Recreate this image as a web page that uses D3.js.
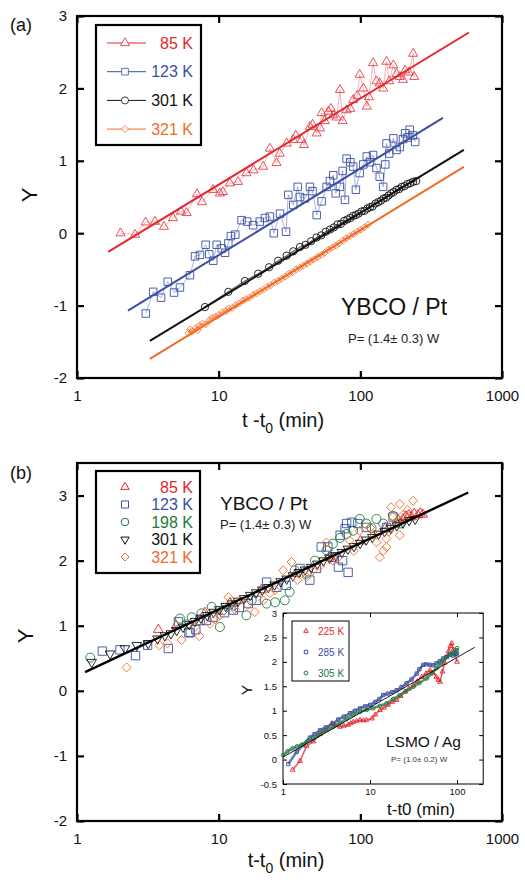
<!DOCTYPE html>
<html>
<head>
<meta charset="utf-8">
<script src="https://cdn.jsdelivr.net/npm/d3@7"></script>
<style>
  body { margin: 0; background: #fff; }
  svg { font-family: "Liberation Sans", Arial, sans-serif; }
</style>
</head>
<body>
<script>
// ---- data: panel (a), [t - t0 (min), Y]
var a85 = [[2.03,0.0],[2.57,-0.02],[3.05,0.15],[3.55,0.16],[4.11,0.09],[4.76,0.21],[5.42,0.30],[5.94,0.28],[7.03,0.54],[7.62,0.43],[9.12,0.60],[10.2,0.55],[10.7,0.57],[12.0,0.69],[13.7,0.71],[15.7,0.83],[17.6,0.87],[20.6,0.92],[23.0,1.17],[25.6,0.97],[27,1.1],[30.2,1.24],[33.6,1.29],[35,1.35],[38.5,1.29],[40,1.22],[44.1,1.47],[46,1.5],[49.2,1.38],[52,1.45],[53.3,1.66],[56,1.55],[59.4,1.68],[62,1.72],[64.5,1.63],[68,1.6],[71.8,1.98],[75,1.55],[80,1.70],[85,1.72],[89,1.84],[95,1.9],[99,2.19],[105,2.0],[111,1.75],[115,1.88],[123,2.35],[130,2.1],[137,2.07],[145,2.0],[153,2.37],[160,2.1],[171,2.32],[180,2.2],[190,2.16],[200,2.12],[207,2.25],[220,2.22],[236,2.48],[240,2.16]];
var a123 = [[3.06,-1.11],[3.45,-0.81],[3.92,-0.89],[4.37,-0.67],[4.84,-0.82],[5.33,-0.75],[6.27,-0.58],[6.81,-0.32],[7.38,-0.30],[8.09,-0.16],[8.58,-0.29],[9.16,-0.38],[9.68,-0.16],[10.5,-0.21],[11.1,-0.27],[11.7,-0.14],[12.2,-0.04],[13.1,-0.02],[14.5,0.18],[15.9,0.16],[17.5,0.11],[19.5,0.16],[21.2,0.21],[23.0,0.23],[24.5,0.0],[27.1,0.27],[29.9,0.02],[31.0,0.53],[33.6,0.39],[36.1,0.64],[37.5,0.50],[40.6,0.48],[44.1,0.64],[46,0.58],[49.2,0.25],[53.3,0.44],[57.8,0.64],[61,0.72],[64.4,0.80],[67,0.55],[71.8,0.64],[75,0.86],[77.9,0.46],[80,1.03],[85,0.98],[89,0.92],[93,0.60],[99,0.83],[105,0.95],[111,1.06],[117,0.98],[123,1.08],[130,0.90],[137,0.78],[145,0.64],[150,0.95],[153,1.24],[160,1.10],[171,1.31],[180,1.15],[190,1.19],[200,1.30],[207,1.38],[215,1.32],[223,1.43],[235,1.35],[244,1.26]];
var a301 = [[8.0,-1.02],[11.7,-0.81],[15.3,-0.66],[19.0,-0.56],[22.7,-0.47],[26.3,-0.38],[30.2,-0.31],[33.6,-0.25],[37.5,-0.19],[41,-0.16],[45,-0.11],[49,-0.06],[53,-0.03],[57,0.02],[61,0.05],[65,0.08],[69,0.12],[73,0.13],[77,0.17],[81,0.19],[85,0.21],[89,0.24],[93,0.25],[97,0.27],[102,0.30],[107,0.31],[112,0.34],[117,0.36],[122,0.37],[128,0.41],[134,0.43],[140,0.45],[146,0.48],[152,0.49],[158,0.52],[165,0.55],[172,0.57],[180,0.60],[188,0.61],[196,0.64],[205,0.65],[215,0.68],[225,0.69],[236,0.71],[248,0.72]];
var a321 = [[6.1,-1.38],[6.3,-1.33],[6.5,-1.36],[6.9,-1.31],[7.1,-1.34],[7.3,-1.28],[7.7,-1.25],[8.1,-1.26],[8.6,-1.20],[9.0,-1.17],[9.5,-1.15],[10.0,-1.13],[10.6,-1.09],[11.2,-1.08],[11.8,-1.04],[12.5,-1.03],[13.2,-0.99],[14.0,-0.97],[14.8,-0.93],[15.6,-0.91],[16.5,-0.89],[17.5,-0.85],[18.5,-0.83],[19.6,-0.80],[20.7,-0.78],[22,-0.74],[23.3,-0.72],[24.7,-0.68],[26.2,-0.66],[27.8,-0.63],[29.5,-0.60],[31.3,-0.56],[33.2,-0.54],[35.2,-0.50],[37.3,-0.48],[39.5,-0.45],[41.9,-0.42],[44.4,-0.39],[47.1,-0.36],[49.9,-0.33],[52.9,-0.30],[56.1,-0.27],[59.5,-0.23],[63.1,-0.20],[66.9,-0.17],[70.9,-0.14],[75.2,-0.10],[79.7,-0.07],[84.5,-0.04],[89.6,-0.01],[95,0.02],[100.7,0.05],[106.8,0.08],[113,0.12]];
// linear fits Y = b + m*log10(t), drawn between t0..t1
var fitNames = ["85 K","123 K","301 K","321 K"];
var fitB = [-0.52,-1.50,-2.10,-2.35];
var fitM = [1.19,1.197,1.19,1.196];
var fitT0 = [1.66,2.29,3.27,3.27];
var fitT1 = [584,383,538,538];

// ---- data: panel (b)
var b85 = [[3.75,0.94],[5,1.0],[8,1.2],[12,1.35],[20,1.55],[35,1.8],[60,2.05],[100,2.3],[150,2.5],[185,2.62],[200,2.64],[210,2.68],[220,2.70],[230,2.67],[240,2.72],[255,2.70],[265,2.73],[276,2.71]];
var b123 = [[1.51,0.61],[2.01,0.63],[2.59,0.54],[3.15,0.70],[4.41,0.65],[5.2,1.06],[6.17,0.89],[6.3,0.90],[6.9,0.94],[7.4,1.08],[8.2,1.08],[9.1,1.13],[11,1.2],[12.7,1.24],[14,1.28],[16.2,1.34],[18.5,1.39],[21.8,1.67],[25.7,1.59],[30,1.62],[37.5,1.88],[44,1.70],[49,1.88],[53,2.21],[59,2.21],[64,2.05],[70,1.90],[72,2.39],[75,2.0],[78,2.49],[80,2.57],[82,1.82],[87,2.59],[96,2.57],[110,2.51],[153,2.51],[170,2.67]];
var b198 = [[1.24,0.51],[5.33,1.11],[5.95,1.02],[6.45,1.13],[7.57,1.19],[8.93,1.29],[10.2,0.98],[10.7,1.24],[12.7,1.31],[15.7,1.16],[17.1,1.39],[21.8,1.34],[25,1.36],[29.3,1.39],[31.7,1.52],[34.4,1.85],[41.7,1.80],[47.8,2.0],[57.7,2.16],[64,2.26],[72,2.35],[80,2.41],[89,2.46],[99,2.64],[110,2.57],[120,2.50],[130,2.64],[145,2.57],[170,2.69],[190,2.57]];
var b301 = [[1.27,0.44],[1.71,0.57],[2.18,0.65],[2.64,0.70],[3.18,0.73],[3.7,0.80],[4.17,0.85],[4.6,0.88],[5.05,0.93],[5.6,0.98],[6.2,1.02],[6.8,1.07],[7.5,1.12],[8.3,1.16],[9.2,1.21],[10.1,1.25],[11.2,1.30],[12.4,1.34],[13.7,1.38],[15.1,1.42],[16.7,1.47],[18.4,1.51],[20.3,1.55],[22.4,1.59],[24.8,1.63],[27.4,1.68],[30.2,1.72],[33.4,1.77],[36.9,1.82],[40.7,1.86],[45,1.90],[49.7,1.95],[54.9,2.00],[60.6,2.04],[67,2.08],[74,2.13],[81.7,2.18],[90.2,2.22],[99.7,2.27],[110,2.32],[121.6,2.36],[134.3,2.41],[148.4,2.45],[163.9,2.50],[181,2.54],[200,2.58],[221,2.62],[244,2.64]];
var b321 = [[2.24,0.36],[3.81,0.70],[4.36,0.73],[5.47,0.78],[6.8,0.98],[7.3,0.84],[8.7,1.03],[9.5,1.1],[10.2,1.16],[11.7,1.44],[13,1.25],[14.1,1.39],[16,1.32],[18.0,1.21],[20.6,1.39],[23,1.50],[25,1.55],[28.5,1.85],[32.6,1.98],[36,1.70],[41.7,1.75],[46,1.85],[52,1.92],[57.7,2.28],[64,2.0],[70,2.05],[84,2.31],[90,2.15],[99,2.46],[117,2.51],[125,2.40],[130,2.28],[137,2.05],[145,2.15],[153,2.21],[153,2.34],[160,2.45],[165,2.82],[170,2.67],[180,2.60],[190,2.87],[190,2.39],[200,2.70],[215,2.78],[236,2.92]];
var bFitB = 0.23, bFitM = 1.02, bFitT = [1.14, 578];

// ---- data: inset (LSMO / Ag)
var i225 = [[1.29,-0.21],[1.57,-0.03],[1.87,0.28],[2.23,0.37],[2.66,0.52],[3.1,0.6],[3.63,0.74],[4.0,0.70],[4.5,0.67],[5.0,0.69],[5.6,0.71],[6.0,0.74],[6.4,0.77],[7.0,0.79],[7.7,0.81],[8.4,0.80],[9.1,0.81],[10.5,0.84],[11.5,0.92],[13.0,1.01],[14.5,1.06],[16.2,1.12],[18,1.18],[20.2,1.22],[22.5,1.30],[25.3,1.39],[28,1.45],[31.5,1.52],[35,1.60],[39.3,1.69],[44,1.76],[49,1.83],[53,1.78],[58,1.69],[61,1.63],[64,1.59],[68,1.80],[72,1.98],[76,2.10],[80,2.22],[84,2.32],[87,2.38],[91,2.25],[95,2.17],[100,2.0]];
var i285 = [[1.15,-0.09],[1.44,0.16],[1.7,0.30],[2.03,0.45],[2.3,0.52],[2.66,0.60],[3.1,0.66],[3.78,0.74],[4.3,0.82],[5.0,0.88],[5.9,0.95],[6.7,1.0],[7.7,1.05],[8.8,1.09],[10,1.12],[11.5,1.18],[12.8,1.24],[14.2,1.32],[16,1.35],[18,1.38],[20.2,1.42],[23,1.48],[26.3,1.56],[30,1.64],[34.4,1.76],[37,1.85],[40.9,1.94],[44,1.95],[48.9,1.94],[53,1.93],[58,1.97],[63,2.01],[69,2.07],[75,2.10],[83,2.14],[90,2.13],[97,2.16],[100,2.17]];
var i305 = [[1.0,0.09],[1.13,0.17],[1.29,0.23],[1.45,0.27],[1.63,0.30],[1.9,0.37],[2.23,0.43],[2.55,0.50],[2.9,0.57],[3.3,0.62],[3.78,0.67],[4.5,0.75],[5.4,0.84],[6.4,0.92],[7.7,0.98],[9.2,1.02],[10.9,1.05],[13,1.10],[15.5,1.15],[18.5,1.24],[22,1.32],[26,1.40],[31.5,1.49],[37,1.57],[44.8,1.66],[51,1.76],[58,1.87],[66,1.97],[76,2.10],[84,2.16],[92,2.20],[99,2.24],[100,2.28]];
var iFitB = 0.05, iFitM = 1.02, iFitT = [1, 160];

var colors = { red: "#e3262f", blue: "#3b4ea3", black: "#111", orange: "#f26b27", green: "#23783f" };

var svg = d3.select("body").append("svg").attr("width", 525).attr("height", 882);

// ---- scales
var xA = d3.scaleLog().domain([1, 1000]).range([77, 502]);
var yA = d3.scaleLinear().domain([-2, 3]).range([378, 16]);
var xB = d3.scaleLog().domain([1, 1000]).range([77, 502]);
var yB = d3.scaleLinear().domain([-2, 3.5]).range([821, 463]);
var xI = d3.scaleLog().domain([1, 200]).range([283, 483.2]);
var yI = d3.scaleLinear().domain([-0.5, 3]).range([784, 613]);

var triUp = d3.symbol().type(d3.symbolTriangle);
var sq = d3.symbol().type(d3.symbolSquare);
var circ = d3.symbol().type(d3.symbolCircle);

function drawFrame(x, y, xt, yt, tk, fs, pad, fw) {
  var g = svg.append("g").attr("class", "frame");
  var x0 = x.range()[0], x1 = x.range()[1], y0 = y.range()[0], y1 = y.range()[1];
  var fmt = function(d) { return String(d); };
  g.append("g").attr("transform", "translate(0," + y0 + ")")
    .call(d3.axisBottom(x).tickValues(xt).tickFormat(fmt).tickSize(-tk).tickPadding(pad[0]));
  g.append("g").attr("transform", "translate(0," + y1 + ")")
    .call(d3.axisTop(x).tickValues(xt).tickFormat("").tickSize(-tk));
  g.append("g").attr("transform", "translate(" + x0 + ",0)")
    .call(d3.axisLeft(y).tickValues(yt).tickFormat(fmt).tickSize(-tk).tickPadding(pad[1]));
  g.append("g").attr("transform", "translate(" + x1 + ",0)")
    .call(d3.axisRight(y).tickValues(yt).tickFormat("").tickSize(-tk));
  g.selectAll(".domain").remove();
  g.selectAll(".tick line").attr("stroke", "#000").attr("stroke-width", fw);
  g.selectAll(".tick text").attr("font-size", fs).attr("fill", "#111")
    .attr("font-family", "Liberation Sans, Arial, sans-serif");
  g.append("rect").attr("x", x0).attr("y", y1).attr("width", x1 - x0).attr("height", y0 - y1)
    .attr("fill", "none").attr("stroke", "#000").attr("stroke-width", fw);
  return g;
}

function diamondPath(s) {
  var h = s / 2;
  return "M0," + (-h) + "L" + h + ",0L0," + h + "L" + (-h) + ",0Z";
}

function drawPoints(data, x, y, kind, color, size, sw, lineColor, lineW) {
  var sorted = data.slice().sort(function(p, q) { return p[0] - q[0]; });
  if (lineColor) {
    svg.append("path").datum(sorted)
      .attr("d", d3.line().x(function(d) { return x(d[0]); }).y(function(d) { return y(d[1]); }))
      .attr("fill", "none").attr("stroke", lineColor).attr("stroke-width", lineW || 0.7)
      .attr("stroke-opacity", 0.75).attr("stroke-linejoin", "round");
  }
  var g = svg.append("g");
  g.selectAll("path").data(sorted).enter().append("path")
    .attr("transform", function(d) {
      var r = kind === "down" ? " rotate(180)" : "";
      return "translate(" + x(d[0]) + "," + y(d[1]) + ")" + r;
    })
    .attr("d", function() {
      if (kind === "tri" || kind === "down") return triUp.size(size)();
      if (kind === "sq") return sq.size(size)();
      if (kind === "circ") return circ.size(size)();
      return diamondPath(size);
    })
    .attr("fill", "none").attr("stroke", color).attr("stroke-width", sw);
}

function fitLine(x, y, b, m, t0, t1, color, w) {
  svg.append("line")
    .attr("x1", x(t0)).attr("y1", y(b + m * Math.log10(t0)))
    .attr("x2", x(t1)).attr("y2", y(b + m * Math.log10(t1)))
    .attr("stroke", color).attr("stroke-width", w);
}

function txt(x, y, s, size, color, anchor) {
  return svg.append("text").attr("x", x).attr("y", y).attr("font-size", size)
    .attr("fill", color || "#111").attr("text-anchor", anchor || "start").text(s);
}

// =============== panel (a)
drawFrame(xA, yA, [1, 10, 100, 1000], [-2, -1, 0, 1, 2, 3], 7, 15, [12, 10], 2.2);

drawPoints(a85, xA, yA, "tri", colors.red, 36, 0.8, "#ef6f74");
drawPoints(a123, xA, yA, "sq", colors.blue, 56, 0.9, "#5a6cb8");
drawPoints(a301, xA, yA, "circ", colors.black, 42, 0.9, "#333", 1.2);
drawPoints(a321, xA, yA, "dia", colors.orange, 7, 0.8, "#f58a52", 2.2);

var fitCols = [colors.red, colors.blue, colors.black, colors.orange];
fitB.forEach(function(b, i) {
  fitLine(xA, yA, b, fitM[i], fitT0[i], fitT1[i], fitCols[i], 2);
});

// legend (a)
svg.append("rect").attr("x", 96).attr("y", 25).attr("width", 105).attr("height", 120)
  .attr("fill", "#fff").attr("stroke", "#000").attr("stroke-width", 2.2);
var legKinds = ["tri", "sq", "circ", "dia"];
var legSizes = [36, 44, 40, 34];
fitNames.forEach(function(name, i) {
  var yy = 43 + i * 28.7;
  svg.append("line").attr("x1", 107).attr("x2", 146).attr("y1", yy).attr("y2", yy)
    .attr("stroke", fitCols[i]).attr("stroke-width", 1);
  var p = svg.append("path").attr("transform", "translate(125," + yy + ")")
    .attr("fill", "#fff").attr("stroke", fitCols[i]).attr("stroke-width", 0.8);
  if (legKinds[i] === "tri") p.attr("d", triUp.size(legSizes[i])());
  else if (legKinds[i] === "sq") p.attr("d", sq.size(legSizes[i])());
  else if (legKinds[i] === "circ") p.attr("d", circ.size(legSizes[i])());
  else p.attr("d", diamondPath(7));
  txt(193, yy + 5.5, name, 16, fitCols[i], "end");
});

txt(10, 31, "(a)", 18, "#111");
txt(341, 315, "YBCO / Pt", 23, "#111");
txt(348, 343, "P= (1.4\u00b1 0.3) W", 13, "#222");
svg.append("text").attr("transform", "translate(37,195) rotate(-90)")
  .attr("text-anchor", "middle").attr("font-size", 22).attr("fill", "#111").text("Y");
var tA = svg.append("text").attr("x", 283).attr("y", 427).attr("text-anchor", "middle")
  .attr("font-size", 20).attr("fill", "#111");
tA.append("tspan").text("t -t");
tA.append("tspan").attr("font-size", 14).attr("dy", 6).text("0");
tA.append("tspan").attr("dy", -6).text(" (min)");

// =============== panel (b)
drawFrame(xB, yB, [1, 10, 100, 1000], [-2, -1, 0, 1, 2, 3], 7, 15, [12, 10], 2.2);

drawPoints(b85, xB, yB, "tri", colors.red, 40, 0.9);
drawPoints(b123, xB, yB, "sq", colors.blue, 70, 0.9);
drawPoints(b198, xB, yB, "circ", colors.green, 64, 0.9);
drawPoints(b301, xB, yB, "down", colors.black, 40, 0.9);
drawPoints(b321, xB, yB, "dia", colors.orange, 9, 0.9);
fitLine(xB, yB, bFitB, bFitM, bFitT[0], bFitT[1], "#000", 2.4);

// legend (b)
svg.append("rect").attr("x", 96).attr("y", 471).attr("width", 104).attr("height", 102)
  .attr("fill", "#fff").attr("stroke", "#000").attr("stroke-width", 2.2);
var legB = [["85 K", colors.red, "tri"], ["123 K", colors.blue, "sq"], ["198 K", colors.green, "circ"],
            ["301 K", colors.black, "down"], ["321 K", colors.orange, "dia"]];
legB.forEach(function(e, i) {
  var yy = 487 + i * 17.5;
  var p = svg.append("path").attr("fill", "none").attr("stroke", e[1]).attr("stroke-width", 1)
    .attr("transform", "translate(125," + yy + ")" + (e[2] === "down" ? " rotate(180)" : ""));
  if (e[2] === "tri" || e[2] === "down") p.attr("d", triUp.size(30)());
  else if (e[2] === "sq") p.attr("d", sq.size(50)());
  else if (e[2] === "circ") p.attr("d", circ.size(45)());
  else p.attr("d", diamondPath(8));
  txt(193, yy + 5.5, e[0], 16, e[1], "end");
});

txt(10, 479, "(b)", 18, "#111");
txt(220, 510, "YBCO / Pt", 19, "#111");
txt(220, 529, "P= (1.4\u00b1 0.3) W", 13, "#222");
svg.append("text").attr("transform", "translate(33,636) rotate(-90)")
  .attr("text-anchor", "middle").attr("font-size", 22).attr("fill", "#111").text("Y");
var tB = svg.append("text").attr("x", 286).attr("y", 867).attr("text-anchor", "middle")
  .attr("font-size", 20).attr("fill", "#111");
tB.append("tspan").text("t-t");
tB.append("tspan").attr("font-size", 14).attr("dy", 6).text("0");
tB.append("tspan").attr("dy", -6).text(" (min)");

// =============== inset
svg.append("rect").attr("x", 283).attr("y", 613).attr("width", 200.2).attr("height", 171).attr("fill", "#fff");
drawFrame(xI, yI, [1, 10, 100], [-0.5, 0, 0.5, 1, 1.5, 2, 2.5, 3], 4, 9.5, [4, 6], 1);

drawPoints(i225, xI, yI, "tri", colors.red, 10, 0.9, colors.red, 1.6);
drawPoints(i285, xI, yI, "sq", colors.blue, 11, 0.9, colors.blue, 2.6);
drawPoints(i305, xI, yI, "circ", colors.green, 11, 0.9, colors.green, 2.6);
fitLine(xI, yI, iFitB, iFitM, iFitT[0], iFitT[1], "#000", 0.9);

svg.append("rect").attr("x", 292).attr("y", 621).attr("width", 57).attr("height", 60)
  .attr("fill", "#fff").attr("stroke", "#000").attr("stroke-width", 1);
var legI = [["225 K", colors.red, "tri"], ["285 K", colors.blue, "sq"], ["305 K", colors.green, "circ"]];
legI.forEach(function(e, i) {
  var yy = 631 + i * 21;
  var p = svg.append("path").attr("transform", "translate(306," + yy + ")")
    .attr("fill", "none").attr("stroke", e[1]).attr("stroke-width", 1);
  if (e[2] === "tri") p.attr("d", triUp.size(9)());
  else if (e[2] === "sq") p.attr("d", sq.size(12)());
  else p.attr("d", circ.size(12)());
  txt(318, yy + 3.5, e[0], 10, e[1], "start");
});

txt(386, 747, "LSMO / Ag", 15.5, "#111");
txt(391, 762, "P= (1.0\u00b1 0.2) W", 8, "#333");
svg.append("text").attr("transform", "translate(252,690) rotate(-90)")
  .attr("text-anchor", "middle").attr("font-size", 15).attr("fill", "#111").text("Y");
txt(421, 815, "t-t0 (min)", 17, "#111", "middle");
</script>
</body>
</html>
